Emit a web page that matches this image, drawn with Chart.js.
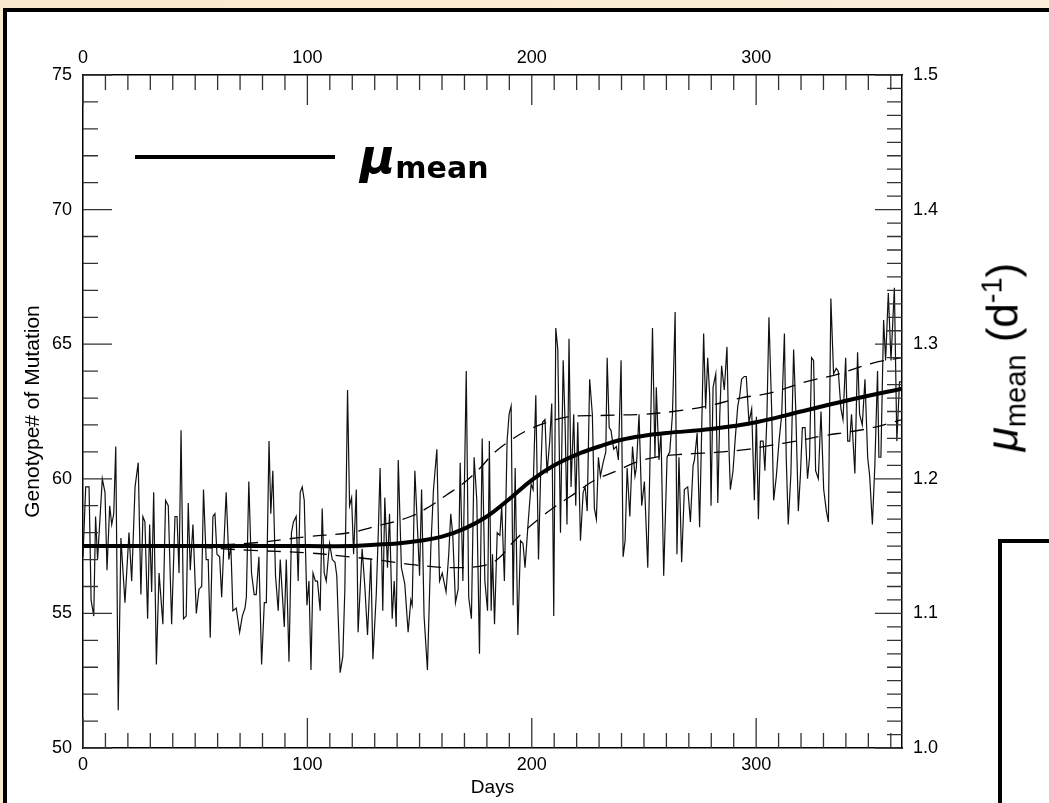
<!DOCTYPE html>
<html>
<head>
<meta charset="utf-8">
<script src="https://cdn.jsdelivr.net/npm/chart.js"></script>
<style>
  body { margin: 0; width: 1049px; height: 803px; overflow: hidden; position: relative;
         background: linear-gradient(to right, #f9e9cd, #fbefdb); font-family: 'Liberation Sans', Arial, sans-serif; }
  #panel { position: absolute; left: 3px; top: 8px; width: 1100px; height: 900px; border: 4px solid #000; background: #fff; }
  #box { position: absolute; left: 998px; top: 539px; width: 200px; height: 400px; border: 4px solid #000; background: #fff; }
  #chart { position: absolute; left: 0; top: 0; }
  #legline { position: absolute; left: 135px; top: 155px; width: 200px; height: 4px; background: #000; }
  #legtext { position: absolute; left: 360px; top: 132px; font-family: 'DejaVu Sans', sans-serif; font-weight: bold;
             font-size: 48px; line-height: 1; white-space: nowrap; }
  #legtext sub { font-size: 30px; vertical-align: -5px; }
  #rlabel { position: absolute; left: 1004px; top: 357px; transform: translate(-50%, -50%) rotate(-90deg);
            font-size: 44px; line-height: 1; white-space: nowrap; }
  #rlabel sub { font-size: 29px; vertical-align: -8px; }
  #rlabel sup { font-size: 29px; vertical-align: 16px; }
</style>
</head>
<body>
<div id="panel"></div>
<div id="box"></div>
<canvas id="chart" width="1049" height="803"></canvas>
<div id="legline"></div>
<div id="legtext"><i>μ</i><sub>mean</sub></div>
<div id="rlabel"><i>μ</i><sub>mean</sub> (d<sup>-1</sup>)</div>
<script>
// Datos: día y número de genotipo (eje izquierdo)
const noiseDays = [
  0.0,1.2,2.7,3.6,4.8,5.6,6.5,8.6,9.8,10.7,
  11.9,12.8,13.7,14.6,15.7,16.9,18.7,20.5,21.7,23.2,
  24.6,25.8,26.7,27.6,28.8,29.7,30.6,31.5,32.7,33.9,
  35.6,36.8,38.0,39.5,41.0,41.9,42.8,43.7,44.8,46.0,
  46.9,47.8,49.0,50.5,51.7,52.9,53.7,54.9,55.8,56.7,
  57.9,58.8,59.7,60.9,61.8,63.8,65.0,65.9,66.8,68.3,
  69.8,71.0,72.2,72.8,73.9,75.1,76.3,77.2,78.4,79.6,
  80.8,81.7,82.9,83.7,84.6,85.8,87.0,87.9,89.7,90.6,
  91.8,92.9,93.8,95.0,95.9,96.8,97.7,98.6,99.8,100.7,
  101.6,102.5,103.6,104.5,105.7,106.6,107.5,108.4,109.9,111.1,
  112.3,113.1,114.6,115.8,116.7,117.9,118.8,119.7,120.6,121.8,
  122.6,124.4,125.6,126.8,128.3,129.2,130.7,131.6,132.4,133.6,
  134.5,135.7,136.6,137.8,138.7,139.6,140.5,141.9,143.4,144.9,
  146.1,146.7,147.9,149.1,150.0,150.9,152.0,153.5,155.0,156.2,
  157.7,158.9,160.1,161.8,163.0,163.9,164.8,166.0,167.2,168.1,
  169.3,170.8,171.9,173.1,174.3,175.5,176.7,177.9,179.1,180.3,
  181.1,
  181.9,182.5,183.4,184.6,185.8,186.6,187.8,189.0,189.9,190.8,
  191.7,192.6,193.8,195.0,196.1,197.0,198.5,199.7,200.6,201.8,
  203.0,203.9,204.8,205.9,206.8,208.0,208.9,209.8,210.7,211.6,
  212.8,214.0,214.9,215.7,216.6,217.5,218.7,219.6,220.5,221.7,
  222.9,223.8,224.7,225.8,227.0,227.9,228.8,229.7,230.6,231.8,
  233.0,233.6,234.5,235.3,236.5,237.7,238.6,239.8,240.7,241.6,
  242.5,243.7,244.9,246.0,246.6,247.8,249.0,250.2,251.7,252.6,
  253.8,254.9,255.5,256.7,257.6,258.8,260.3,261.5,262.7,263.9,
  264.7,265.6,266.8,268.0,269.5,270.7,271.9,272.5,273.7,274.8,
  275.7,276.6,277.5,278.4,279.3,279.9,280.8,282.0,282.9,283.8,
  284.6,285.8,287.0,287.9,288.5,289.7,290.6,291.8,292.7,293.5,
  294.7,295.6,296.8,298.0,299.2,300.1,301.0,301.9,303.1,303.9,
  304.8,305.7,306.9,307.8,309.0,310.2,311.4,312.6,313.4,314.3,
  315.5,316.7,317.6,318.8,319.7,320.6,321.8,322.9,323.8,324.7,
  325.6,326.5,327.7,328.9,330.1,331.3,332.2,333.3,334.5,335.7,
  336.6,337.8,338.7,339.9,340.8,341.7,342.5,344.0,345.2,346.1,
  347.3,348.5,349.7,350.6,351.8,352.9,354.1,354.7,355.6,356.8,
  357.7,358.9,360.1,361.6,362.7,363.9,364.8
];
const noiseValues = [
  57.1,59.7,59.7,55.5,54.9,58.6,57.0,60.0,59.5,56.6,
  59.0,58.3,58.7,61.2,51.4,57.8,55.4,58.0,56.2,59.7,
  60.6,55.7,58.6,58.4,54.8,58.3,55.8,59.5,53.1,56.5,
  54.6,59.2,59.0,54.6,58.6,58.6,56.5,61.8,54.8,54.9,
  59.1,56.6,58.3,55.0,55.9,56.0,59.6,57.0,57.0,54.1,
  58.6,58.7,57.2,57.1,55.6,59.5,57.0,57.5,55.1,55.2,
  54.3,54.9,55.2,55.6,59.9,56.5,55.7,55.7,57.1,53.1,
  55.4,55.4,61.4,58.7,60.3,56.4,55.1,57.0,54.5,57.0,
  53.2,58.0,58.4,58.6,56.2,59.5,59.7,59.2,55.3,56.2,
  52.9,56.5,56.2,56.2,55.1,58.9,56.5,56.2,57.6,57.0,
  56.9,56.4,52.8,53.4,55.9,63.3,59.0,59.3,57.2,59.6,
  54.3,57.4,56.0,54.2,57.0,53.3,55.7,58.0,60.4,55.1,
  59.3,56.7,58.7,54.8,56.2,54.5,60.7,56.7,56.1,54.3,
  55.5,55.3,60.3,58.1,56.4,59.6,54.9,52.9,57.4,59.6,
  61.1,56.2,56.5,55.8,57.2,58.7,57.9,55.4,55.9,60.6,
  56.2,64.0,55.6,54.8,60.8,59.2,53.5,61.5,56.2,55.1,
  61.4,
  55.1,57.2,54.6,58.0,57.9,59.0,56.2,61.4,62.4,62.7,
  55.3,60.4,54.2,57.7,57.6,56.7,58.5,59.8,59.6,63.1,
  57.0,60.0,62.1,62.2,60.2,61.4,62.8,54.9,65.6,64.8,
  58.0,64.4,61.9,58.3,65.2,59.7,62.4,59.0,62.1,57.7,
  59.5,59.7,58.8,63.7,62.4,58.9,58.5,60.8,60.1,60.6,
  61.0,64.5,61.9,61.8,61.1,61.2,60.7,64.4,57.1,57.7,
  60.4,58.6,61.2,60.1,60.4,62.4,59.0,59.9,56.7,60.3,
  65.6,60.8,63.4,60.7,61.7,56.4,60.8,61.0,62.4,66.2,
  57.2,60.8,56.9,59.6,59.7,58.4,60.5,60.7,61.7,58.2,
  61.7,65.4,62.6,64.5,63.1,59.0,63.4,63.9,59.1,62.4,
  64.2,63.3,64.9,61.1,59.6,60.3,61.4,62.7,63.1,63.7,
  63.8,63.8,62.1,62.6,59.2,62.3,58.5,61.4,61.4,60.3,
  62.3,66.0,62.6,59.2,60.1,61.4,62.4,65.4,60.8,58.3,
  60.2,64.8,62.7,58.8,60.1,61.9,61.9,60.0,60.8,64.5,
  64.4,60.3,60.0,62.5,59.6,58.8,58.4,66.7,63.9,64.1,
  64.0,62.6,62.2,64.5,61.4,61.4,62.4,60.2,64.7,62.4,
  62.0,63.7,60.8,60.1,58.3,60.5,64.0,60.8,60.8,65.9,
  64.4,66.9,64.4,67.1,61.4,63.6,63.6
];

// μ medio (eje derecho, d^-1)
const meanDays = [0,20,40,60,80,100,120,130,140,150,160,170,180,190,200,210,220,230,240,250,260,280,300,320,340,365];
const meanMu   = [1.150,1.150,1.150,1.150,1.150,1.150,1.150,1.151,1.152,1.154,1.157,1.163,1.172,1.185,1.199,1.210,1.218,1.224,1.229,1.232,1.234,1.237,1.242,1.250,1.258,1.267];

// bandas discontinuas
const upperDays = [0,40,73,100,119,129,146,155,162,169,177,183,190,198,207,216,230,250,263,278,293,307,322,337,352,365];
const upperMu   = [1.150,1.150,1.152,1.157,1.160,1.164,1.172,1.180,1.188,1.196,1.208,1.219,1.228,1.236,1.242,1.246,1.247,1.248,1.250,1.254,1.260,1.264,1.272,1.278,1.286,1.290];
const lowerDays = [0,40,73,100,119,130,148,165,180,186,190,196,203,211,220,228,238,246,255,265,276,285,297,307,318,330,342,352,365];
const lowerMu   = [1.150,1.150,1.147,1.145,1.142,1.140,1.136,1.134,1.136,1.142,1.150,1.160,1.170,1.180,1.190,1.199,1.206,1.212,1.216,1.218,1.219,1.220,1.222,1.225,1.228,1.232,1.235,1.238,1.244];

const toPoints = (xs, ys) => xs.map((x, i) => ({ x: x, y: ys[i] }));

// marcas de graduación hacia dentro, como en la figura original
const inwardTicks = {
  id: 'inwardTicks',
  afterDraw(chart) {
    const { ctx, chartArea: a, scales } = chart;
    ctx.save();
    ctx.strokeStyle = '#333';
    ctx.lineWidth = 1.3;
    ctx.beginPath();
    for (let d = 0; d <= 365; d += 10) {
      const x = scales.x.getPixelForValue(d);
      const len = d % 100 === 0 ? 30 : 15;
      ctx.moveTo(x, a.bottom); ctx.lineTo(x, a.bottom - len);
      ctx.moveTo(x, a.top); ctx.lineTo(x, a.top + len);
    }
    for (let v = 50; v <= 75; v++) {
      const y = scales.y.getPixelForValue(v);
      ctx.moveTo(a.left, y); ctx.lineTo(a.left + (v % 5 === 0 ? 29 : 15), y);
    }
    for (let i = 0; i <= 50; i++) {
      const y = scales.y2.getPixelForValue(1 + i / 100);
      ctx.moveTo(a.right, y); ctx.lineTo(a.right - (i % 10 === 0 ? 27 : 15), y);
    }
    ctx.stroke();
    ctx.restore();
  }
};

const axisFont = { family: "'Liberation Sans', Arial, sans-serif", size: 18 };
const baseAxis = {
  type: 'linear',
  grid: { display: false, drawTicks: false },
  border: { display: true, color: '#000', width: 1.5 },
};

new Chart(document.getElementById('chart').getContext('2d'), {
  type: 'line',
  data: {
    datasets: [
      { label: 'μmean', data: toPoints(meanDays, meanMu), yAxisID: 'y2', borderColor: '#000',
        borderWidth: 4, pointRadius: 0, tension: 0.4 },
      { label: 'upper', data: toPoints(upperDays, upperMu), yAxisID: 'y2', borderColor: '#000',
        borderWidth: 1.3, borderDash: [14, 9], pointRadius: 0, tension: 0.4 },
      { label: 'lower', data: toPoints(lowerDays, lowerMu), yAxisID: 'y2', borderColor: '#000',
        borderWidth: 1.3, borderDash: [14, 9], pointRadius: 0, tension: 0.4 },
      { label: 'Genotype', data: toPoints(noiseDays, noiseValues), yAxisID: 'y', borderColor: '#111',
        borderWidth: 1.2, pointRadius: 0, tension: 0 }
    ]
  },
  options: {
    responsive: false,
    animation: false,
    layout: { padding: 0 },
    plugins: { legend: { display: false }, tooltip: { enabled: false } },
    scales: {
      x: { ...baseAxis, position: 'bottom', min: 0, max: 365,
        ticks: { stepSize: 100, includeBounds: false, padding: 6, color: '#000', font: axisFont, maxRotation: 0 },
        title: { display: true, text: 'Days', color: '#000', font: { ...axisFont, size: 19 }, padding: { top: 8 } },
        afterFit: s => { s.height = 55; } },
      x2: { ...baseAxis, position: 'top', min: 0, max: 365,
        ticks: { stepSize: 100, includeBounds: false, padding: 6, color: '#000', font: axisFont, maxRotation: 0 },
        afterFit: s => { s.height = 75; } },
      y: { ...baseAxis, position: 'left', min: 50, max: 75,
        ticks: { stepSize: 5, padding: 11, color: '#000', font: axisFont },
        title: { display: true, text: 'Genotype# of Mutation', color: '#000', font: { ...axisFont, size: 21 }, padding: { top: 21 } },
        afterFit: s => { s.width = 83; } },
      y2: { ...baseAxis, position: 'right', min: 1.0, max: 1.5,
        ticks: { stepSize: 0.1, padding: 11, color: '#000', font: axisFont, callback: v => v.toFixed(1) },
        afterFit: s => { s.width = 147; } }
    }
  },
  plugins: [inwardTicks]
});
</script>
</body>
</html>
